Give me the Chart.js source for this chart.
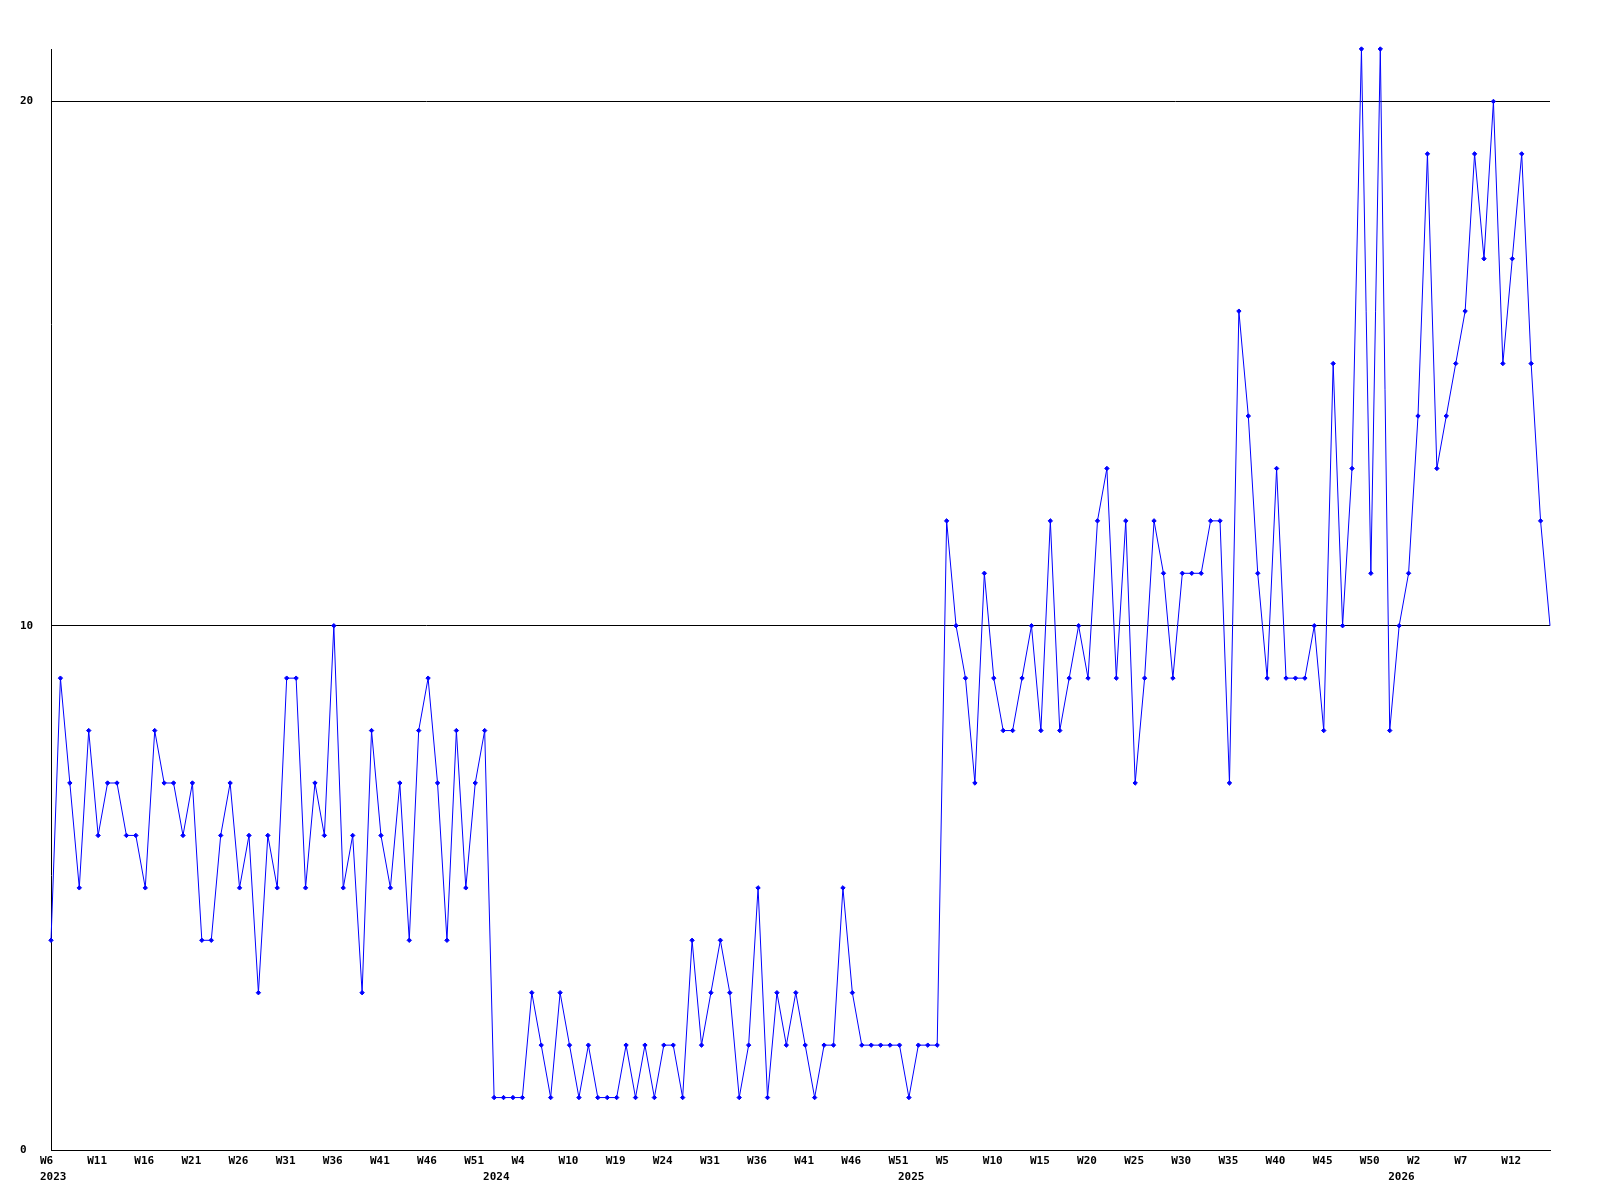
<!DOCTYPE html>
<html>
<head>
<meta charset="utf-8">
<script src="https://cdn.jsdelivr.net/npm/chart.js@4/dist/chart.umd.min.js"></script>
<style>
html,body{margin:0;padding:0;background:#fff;}
#wrap{width:1600px;height:1200px;position:relative;}
</style>
</head>
<body>
<div id="wrap"><canvas id="c" width="1600" height="1200"></canvas></div>
<script>
// Week numbers of each data point, per year
const weeks2023 = [6,7,8,9,10,11,12,13,14,15,16,17,18,19,20,21,22,23,24,25,26,27,28,29,30,31,32,33,34,35,36,37,38,39,40,41,42,43,44,45,46,47,48,49,50,51,52];
const weeks2024 = [1,2,3,4,5,6,7,8,10,11,12,13,14,19,20,21,22,23,24,25,26,27,28,31,32,33,34,35,36,37,38,39,40,41,42,43,44,45,46,47,48,49,50,51];
const weeks2025 = [1,2,3,4,5,6,7,8,9,10,11,12,13,14,15,16,17,18,19,20,21,22,23,24,25,26,27,28,29,30,31,32,33,34,35,36,37,38,39,40,41,42,43,44,45,46,47,48,49,50,51,52];
const weeks2026 = [0,1,2,3,4,5,6,7,8,9,10,11,12,13,14,15,16];

// Values per year
const values2023 = [4,9,7,5,8,6,7,7,6,6,5,8,7,7,6,7,4,4,6,7,5,6,3,6,5,9,9,5,7,6,10,5,6,3,8,6,5,7,4,8,9,7,4,8,5,7,8];
const values2024 = [1,1,1,1,3,2,1,3,2,1,2,1,1,1,2,1,2,1,2,2,1,4,2,3,4,3,1,2,5,1,3,2,3,2,1,2,2,5,3,2,2,2,2,2];
const values2025 = [1,2,2,2,12,10,9,7,11,9,8,8,9,10,8,12,8,9,10,9,12,13,9,12,7,9,12,11,9,11,11,11,12,12,7,16,14,11,9,13,9,9,9,10,8,15,10,13,21,11,21,8];
const values2026 = [10,11,14,19,13,14,15,16,19,17,20,15,17,19,15,12,10];

const yearList = [2023, 2024, 2025, 2026];
const yTickValues = [0, 10, 20];
const yMax = 21;
const labelEvery = 5;

// Build flat arrays
const weekSets = [weeks2023, weeks2024, weeks2025, weeks2026];
const valueSets = [values2023, values2024, values2025, values2026];
const weeks = [], years = [], values = [], categories = [];
weekSets.forEach((ws, k) => {
  ws.forEach((w, j) => {
    weeks.push(w);
    years.push(yearList[k]);
    values.push(valueSets[k][j]);
    categories.push(yearList[k] + '-W' + w);
  });
});

const FONT = {family: "'DejaVu Sans Mono', 'Liberation Mono', monospace", size: 11, weight: 'bold', lineHeight: 16/11};

new Chart(document.getElementById('c'), {
  type: 'line',
  data: {
    labels: categories,
    datasets: [{
      data: values,
      borderColor: '#0000ff',
      backgroundColor: '#0000ff',
      borderWidth: 1,
      tension: 0,
      pointStyle: 'rectRot',
      pointRadius: (ctx) => ctx.dataIndex === values.length - 1 ? 0 : 2.2,
      pointBorderWidth: (ctx) => ctx.dataIndex === values.length - 1 ? 0 : 1,
      pointBorderColor: '#0000ff',
      pointBackgroundColor: '#0000ff',
      clip: false,
      fill: false
    }]
  },
  options: {
    responsive: false,
    animation: false,
    events: [],
    layout: {padding: {left: 20, top: 49, right: 50, bottom: 0}},
    plugins: {legend: {display: false}, tooltip: {enabled: false}, title: {display: false}},
    scales: {
      x: {
        type: 'category',
        offset: false,
        grid: {display: false, drawTicks: false},
        border: {display: true, color: '#000000', width: 1},
        ticks: {
          autoSkip: false,
          maxRotation: 0,
          minRotation: 0,
          align: 'start',
          labelOffset: -11,
          padding: 3,
          color: '#000000',
          font: FONT,
          callback: function(val, i) {
            const wk = (i % labelEvery === 0) ? 'W' + weeks[i] : '';
            const yr = (i === 0 || years[i] !== years[i - 1]) ? String(years[i]) : '';
            return [wk, yr];
          }
        },
        afterFit: function(s) { s.height = 50; }
      },
      y: {
        type: 'linear',
        min: 0,
        max: yMax,
        grid: {display: true, color: '#000000', lineWidth: 1, drawTicks: false},
        border: {display: true, color: '#000000', width: 1},
        ticks: {
          color: '#000000',
          font: FONT,
          crossAlign: 'far',
          padding: 4,
          includeBounds: false
        },
        afterBuildTicks: function(s) { s.ticks = yTickValues.map(v => ({value: v})); },
        afterFit: function(s) { s.width = 31; }
      }
    }
  }
});
</script>
</body>
</html>
